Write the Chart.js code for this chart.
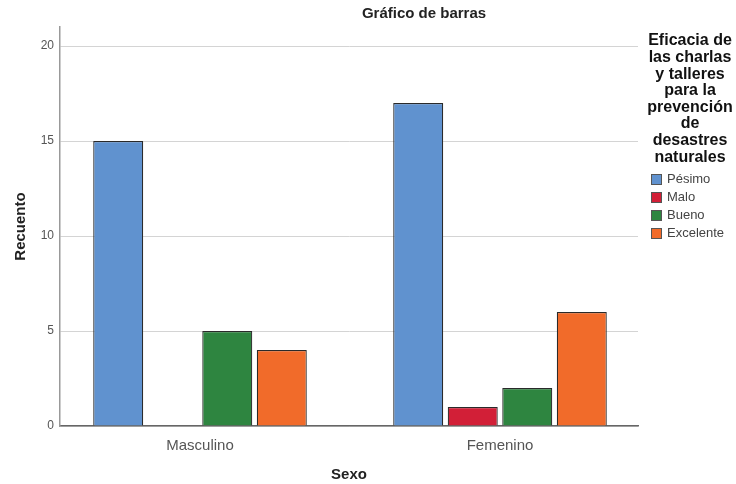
<!DOCTYPE html>
<html>
<head>
<meta charset="utf-8">
<script src="https://cdn.jsdelivr.net/npm/chart.js@4"></script>
<style>
  html, body { margin: 0; padding: 0; background: #fff; }
  #wrap { width: 736px; height: 484px; position: relative; }
</style>
</head>
<body>
<div id="wrap"><canvas id="barChart"></canvas></div>
<script>
const categories = ["Masculino", "Femenino"];
const seriesNames = ["Pésimo", "Malo", "Bueno", "Excelente"];
const pesimoValues = [15, 17];
const maloValues = [0, 1];
const buenoValues = [5, 2];
const excelenteValues = [4, 6];
const yTicks = [0, 5, 10, 15, 20];
const chartTitle = "Gráfico de barras";
const legendTitle = ["Eficacia de", "las charlas", "y talleres", "para la", "prevención", "de", "desastres", "naturales"];

const colors = ["#6092cf", "#d21f37", "#2e8540", "#f16b2a"];
const fontFamily = "Arial, 'Liberation Sans', sans-serif";

const seriesValues = [pesimoValues, maloValues, buenoValues, excelenteValues];

// leyenda y titulo dibujados a mano (titulo de leyenda en varias lineas)
const sideLegend = {
  id: "sideLegend",
  afterDraw(chart) {
    const ctx = chart.ctx;
    ctx.save();
    ctx.fillStyle = "#222";
    ctx.font = "bold 15px " + fontFamily;
    ctx.textAlign = "center";
    ctx.textBaseline = "middle";
    ctx.fillText(chartTitle, 424, 14);

    ctx.font = "bold 16px " + fontFamily;
    ctx.fillStyle = "#111";
    legendTitle.forEach((line, i) => {
      ctx.fillText(line, 690, 41 + i * 16.6);
    });

    ctx.textAlign = "left";
    ctx.font = "13px " + fontFamily;
    seriesNames.forEach((name, i) => {
      const y = 179 + i * 18;
      ctx.fillStyle = colors[i];
      ctx.fillRect(651, y - 5, 11, 11);
      ctx.strokeStyle = "#555";
      ctx.lineWidth = 1;
      ctx.strokeRect(651.5, y - 4.5, 10, 10);
      ctx.fillStyle = "#444";
      ctx.fillText(name, 667, y + 0.5);
    });
    ctx.restore();
  },
};

const ctx = document.getElementById("barChart").getContext("2d");
new Chart(ctx, {
  type: "bar",
  data: {
    datasets: seriesNames.map((name, i) => ({
      label: name,
      data: seriesValues[i].map((v, c) => ({ x: c, y: v })),
      backgroundColor: colors[i],
      borderColor: "#2a2a2a",
      borderWidth: 1.2,
      categoryPercentage: 0.727,
      barPercentage: 0.917,
    })),
  },
  options: {
    responsive: true,
    maintainAspectRatio: false,
    animation: false,
    layout: {
      padding: { left: 0, right: 98, top: 27, bottom: 0 },
    },
    plugins: {
      legend: { display: false },
      title: { display: false },
      tooltip: { enabled: false },
    },
    scales: {
      x: {
        type: "linear",
        offset: false,
        min: -0.4667,
        max: 1.46,
        grid: { display: false },
        border: { display: true, color: "#666", width: 1.5 },
        afterBuildTicks(scale) {
          scale.ticks = categories.map((c, i) => ({ value: i }));
        },
        ticks: {
          autoSkip: false,
          color: "#555",
          font: { family: fontFamily, size: 15 },
          padding: 3,
          callback: (v) => categories[v],
        },
        title: {
          display: true,
          text: "Sexo",
          color: "#222",
          font: { family: fontFamily, size: 15, weight: "bold" },
          padding: { top: 0, bottom: 0 },
        },
        afterFit(scale) {
          scale.height = 58;
        },
      },
      y: {
        min: 0,
        max: 21,
        grid: { color: "#d4d4d4", lineWidth: 1, drawTicks: false },
        border: { display: true, color: "#999", width: 1.5 },
        ticks: {
          stepSize: 5,
          color: "#555",
          font: { family: fontFamily, size: 12 },
          padding: 6,
        },
        afterBuildTicks(scale) {
          scale.ticks = yTicks.map((v) => ({ value: v }));
        },
        title: {
          display: true,
          text: "Recuento",
          color: "#222",
          font: { family: fontFamily, size: 15, weight: "bold" },
          padding: { top: 12, bottom: 0 },
        },
        afterFit(scale) {
          scale.width = 60;
        },
      },
    },
  },
  plugins: [sideLegend],
});
</script>
</body>
</html>
